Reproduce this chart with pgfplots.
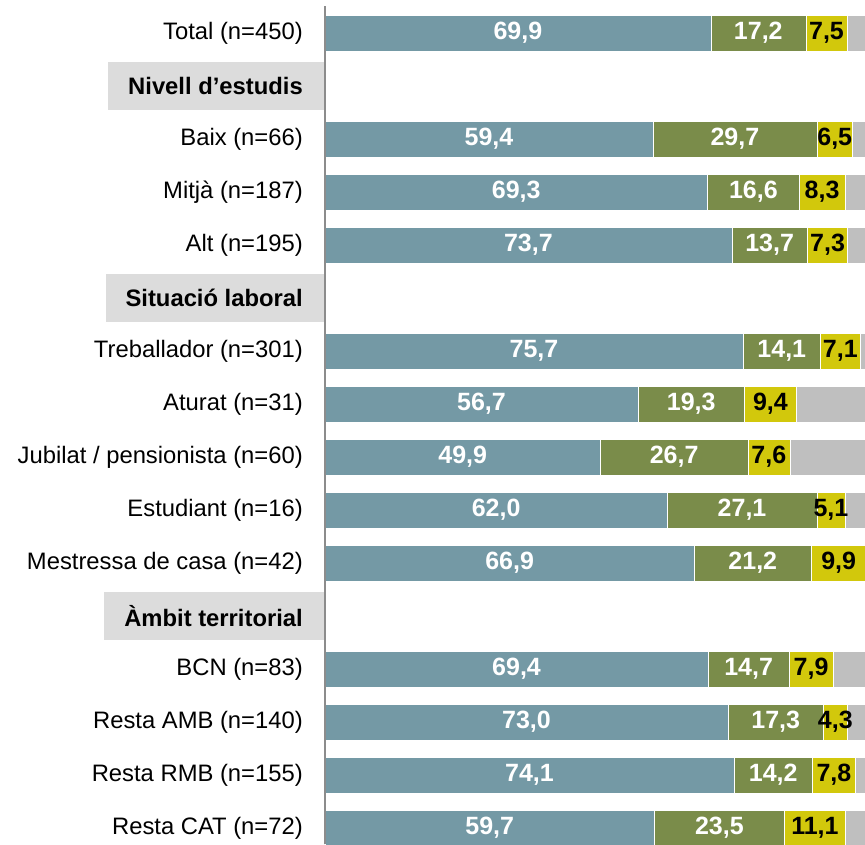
\documentclass[border=0pt]{standalone}
\usepackage{fontspec}
\setmainfont{Liberation Sans}
\usepackage{pgfplots}
\usepackage{pgfplotstable}
\pgfplotsset{compat=1.18}
\definecolor{cblue}{HTML}{7499A5}
\definecolor{cgreen}{HTML}{7A8C4A}
\definecolor{cyellow}{HTML}{D2C80C}
\definecolor{cgray}{HTML}{BFBFBF}
\definecolor{hdr}{HTML}{DCDCDC}
\definecolor{vline}{HTML}{8C8C8C}
\pgfplotstableread{
y  a    b    c    d
0  69.9 17.2 7.5  5.4
2  59.4 29.7 6.5  4.4
3  69.3 16.6 8.3  5.8
4  73.7 13.7 7.3  5.3
6  75.7 14.1 7.1  3.1
7  56.7 19.3 9.4  14.6
8  49.9 26.7 7.6  15.8
9  62.0 27.1 5.1  5.8
10 66.9 21.2 9.9  2.0
12 69.4 14.7 7.9  8.0
13 73.0 17.3 4.3  5.4
14 74.1 14.2 7.8  3.9
15 59.7 23.5 11.1 5.7
}\data
\newcommand{\bigf}{\fontsize{23.8pt}{29pt}\selectfont}
\newcommand{\valf}{\fontsize{25pt}{30pt}\selectfont}
\pgfplotsset{
  lbl/.style={
    nodes near coords,
    point meta=explicit,
    every node near coord/.append style={anchor=center, inner sep=0pt,
      font=\valf\bfseries, text=#1},
  },
}
\begin{document}
\begin{tikzpicture}
\begin{axis}[name=ax, scale only axis, width=552pt, height=844pt,
  xbar stacked, bar width=35.5pt,
  xmin=0, xmax=100, ymin=-0.623, ymax=15.30, y dir=reverse,
  axis line style={draw=none}, xtick=\empty,
  ytick={0,...,15},
  yticklabels={{Total (n=450)},{},{Baix (n=66)},{Mitjà (n=187)},{Alt (n=195)},{},{Treballador (n=301)},{Aturat (n=31)},{Jubilat / pensionista (n=60)},{Estudiant (n=16)},{Mestressa de casa (n=42)},{},{BCN (n=83)},{Resta AMB (n=140)},{Resta RMB (n=155)},{Resta CAT (n=72)}},
  major tick length=0pt,
  yticklabel style={font=\bigf, anchor=east, inner sep=0pt, xshift=-22pt},
  /pgf/number format/.cd, fixed, fixed zerofill, precision=1, use comma, assume math mode=true,
]
\addplot[fill=cblue, draw=white, line width=0.5pt, lbl=white] table[x=a, y=y, meta=a] {\data};
\addplot[fill=cgreen, draw=white, line width=0.5pt, lbl=white] table[x=b, y=y, meta=b] {\data};
\addplot[fill=cyellow, draw=white, line width=0.5pt, lbl=black] table[x=c, y=y, meta=c] {\data};
\addplot[fill=cgray, draw=white, line width=0.5pt] table[x=d, y=y] {\data};
\coordinate (h1) at (axis cs:0,1);
\coordinate (h2) at (axis cs:0,5);
\coordinate (h3) at (axis cs:0,11);
\coordinate (vt) at (axis cs:0,-0.509);
\coordinate (vb) at (axis cs:0,15.30);
\end{axis}
\foreach \c/\t in {h1/{Nivell d’estudis}, h2/{Situació laboral}, h3/{Àmbit territorial}}{
  \node[fill=hdr, anchor=east, minimum height=48pt, inner sep=0pt, font=\bigf\bfseries] at (\c) {\kern20pt\t\kern22pt};
}
\draw[vline, line width=1.2pt] (vt) -- (vb);
\pgfresetboundingbox
\path[use as bounding box] ([xshift=-325pt]ax.south west) rectangle ([xshift=540pt]ax.north west);
\end{tikzpicture}
\end{document}
